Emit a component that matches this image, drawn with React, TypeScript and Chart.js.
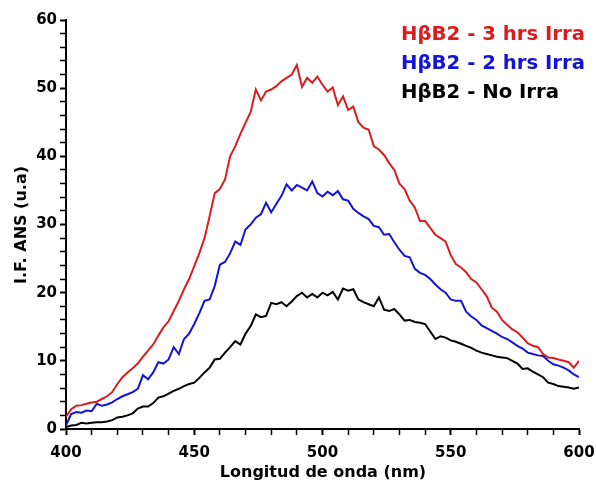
import React, { useEffect, useRef } from "react";
import { Chart, registerables } from "chart.js";

Chart.register(...registerables);

const wavelengths: number[] = Array.from({ length: 101 }, (_, i) => 400 + i * 2);

const irra3h: number[] = [
  1.8, 2.9, 3.4, 3.5, 3.7, 3.9, 4.0, 4.4, 4.8, 5.4,
  6.6, 7.6, 8.3, 8.9, 9.6, 10.6, 11.5, 12.4, 13.7, 14.9,
  15.8, 17.3, 18.8, 20.5, 22.0, 23.9, 25.8, 28.0, 31.2, 34.6,
  35.2, 36.6, 40.0, 41.5, 43.3, 44.9, 46.5, 49.8, 48.2, 49.5,
  49.8, 50.3, 51.0, 51.5, 52.0, 53.4, 50.2, 51.5, 50.8, 51.7,
  50.5, 49.5, 50.1, 47.5, 48.8, 46.8, 47.3, 45.0, 44.2, 43.9,
  41.5, 41.0, 40.2, 39.0, 38.0, 36.0, 35.2, 33.5, 32.5, 30.5,
  30.5, 29.5, 28.5, 28.0, 27.5, 25.5, 24.2, 23.7, 23.0, 22.0,
  21.5, 20.5, 19.5, 17.8, 17.2, 16.0, 15.3, 14.6, 14.2, 13.4,
  12.6, 12.2, 12.0, 11.0, 10.5, 10.4, 10.2, 10.0, 9.8, 9.0,
  10.0,
];

const irra2h: number[] = [
  0.5, 2.2, 2.5, 2.4, 2.7, 2.6, 3.7, 3.4, 3.6, 3.9,
  4.4, 4.8, 5.1, 5.4, 5.9, 7.9, 7.3, 8.3, 9.8, 9.6,
  10.2, 12.0, 11.0, 13.2, 14.0, 15.4, 17.0, 18.8, 19.0, 21.0,
  24.1, 24.5, 25.8, 27.5, 27.0, 29.3, 30.0, 31.0, 31.5, 33.2,
  31.8, 33.0, 34.2, 35.9, 35.0, 35.8, 35.4, 35.0, 36.3, 34.6,
  34.1, 34.8, 34.3, 34.9, 33.7, 33.5, 32.3, 31.7, 31.2, 30.8,
  29.8, 29.6, 28.5, 28.6, 27.4, 26.3, 25.4, 25.2, 23.5, 22.9,
  22.6, 22.0, 21.2, 20.5, 20.0, 19.0, 18.8, 18.8, 17.2, 16.5,
  16.0, 15.2, 14.8, 14.4, 14.0, 13.5, 13.2, 12.7, 12.2, 11.8,
  11.2, 11.0, 10.8, 10.7, 10.0, 9.5, 9.3, 9.0, 8.6, 8.0,
  7.6,
];

const noIrra: number[] = [
  0.3, 0.5, 0.6, 0.9, 0.8, 0.9, 1.0, 1.0, 1.1, 1.3,
  1.7, 1.8, 2.0, 2.3, 3.0, 3.3, 3.3, 3.8, 4.6, 4.8,
  5.2, 5.6, 5.9, 6.3, 6.6, 6.8, 7.5, 8.3, 9.0, 10.2,
  10.3, 11.2, 12.0, 12.9, 12.4, 14.0, 15.1, 16.8, 16.4, 16.6,
  18.5, 18.3, 18.6, 18.0, 18.7, 19.5, 20.0, 19.3, 19.8, 19.3,
  20.0, 19.6, 20.1, 19.0, 20.6, 20.3, 20.5, 19.0, 18.6, 18.3,
  18.0, 19.3, 17.5, 17.3, 17.6, 16.8, 15.9, 16.0, 15.7, 15.6,
  15.4, 14.3, 13.2, 13.6, 13.4, 13.0, 12.8, 12.5, 12.2, 11.9,
  11.5, 11.2, 11.0, 10.8, 10.6, 10.5, 10.4, 10.0, 9.6, 8.8,
  8.9, 8.4, 8.0, 7.6, 6.8, 6.6, 6.3, 6.2, 6.1, 5.9,
  6.1,
];

const seriesLabels: string[] = ["HβB2 - 3 hrs Irra", "HβB2 - 2 hrs Irra", "HβB2 - No Irra"];
const seriesColors: string[] = ["#d81e1e", "#1414d2", "#000000"];
const xTitle = "Longitud de onda (nm)";
const yTitle = "I.F. ANS (u.a)";

const FONT = "'DejaVu Sans', 'Noto Sans', sans-serif";

export default function App() {
  const canvasRef = useRef<HTMLCanvasElement | null>(null);

  useEffect(() => {
    const canvas = canvasRef.current;
    if (!canvas) return;
    const toPts = (arr: number[]) => arr.map((v, i) => ({ x: wavelengths[i], y: v }));
    const series = [irra3h, irra2h, noIrra];

    const textPlugin = {
      id: "texts",
      afterDraw(chart: any) {
        const ctx = chart.ctx as CanvasRenderingContext2D;
        ctx.save();
        ctx.font = `bold 19.7px ${FONT}`;
        ctx.textAlign = "left";
        ctx.textBaseline = "alphabetic";
        const baselines = [40, 69, 98];
        seriesLabels.forEach((l, i) => {
          ctx.fillStyle = seriesColors[i];
          ctx.fillText(l, 401, baselines[i]);
        });
        ctx.fillStyle = "#000";
        ctx.font = `bold 16px ${FONT}`;
        ctx.textAlign = "center";
        ctx.textBaseline = "middle";
        ctx.fillText(xTitle, 323, 473);
        ctx.translate(22, 225);
        ctx.rotate(-Math.PI / 2);
        ctx.fillText(yTitle, 0, 0);
        ctx.restore();
      },
    };

    const chart = new Chart(canvas, {
      type: "line",
      data: {
        datasets: series.map((s, i) => ({
          label: seriesLabels[i],
          data: toPts(s),
          borderColor: seriesColors[i],
          backgroundColor: seriesColors[i],
          borderWidth: 2,
          pointRadius: 0,
          tension: 0,
          fill: false,
        })),
      },
      options: {
        responsive: false,
        animation: false,
        devicePixelRatio: 1,
        layout: { padding: { top: 20, right: 17, left: 0, bottom: 0 } },
        plugins: {
          legend: { display: false },
          tooltip: { enabled: false },
          title: { display: false },
        },
        scales: {
          x: {
            type: "linear",
            min: 400,
            max: 600,
            afterFit: (scale: any) => {
              scale.height = 54;
              scale.paddingLeft = 0;
              scale.paddingRight = 0;
            },
            border: { display: true, color: "#000", width: 2 },
            grid: {
              display: true,
              drawOnChartArea: false,
              drawTicks: true,
              tickLength: 6,
              color: "#000",
              tickWidth: (ctx: any) => (ctx.tick && ctx.tick.value % 50 === 0 ? 2 : 1.5),
            },
            ticks: {
              stepSize: 10,
              autoSkip: false,
              maxRotation: 0,
              padding: 9,
              color: "#000",
              font: { family: FONT, size: 15, weight: "bold" },
              callback: (v: any) => (Number(v) % 50 === 0 ? String(v) : ""),
            },
          },
          y: {
            type: "linear",
            min: 0,
            max: 60,
            afterFit: (scale: any) => {
              scale.width = 66;
              scale.paddingTop = 0;
              scale.paddingBottom = 0;
            },
            border: { display: true, color: "#000", width: 2 },
            grid: {
              display: true,
              drawOnChartArea: false,
              drawTicks: true,
              tickLength: 6,
              color: "#000",
              tickWidth: (ctx: any) => (ctx.tick && ctx.tick.value % 10 === 0 ? 2 : 1.5),
            },
            ticks: {
              stepSize: 2,
              autoSkip: false,
              padding: 3,
              color: "#000",
              font: { family: FONT, size: 15, weight: "bold" },
              callback: (v: any) => (Number(v) % 10 === 0 ? String(v) : ""),
            },
          },
        },
      },
      plugins: [textPlugin],
    } as any);

    return () => chart.destroy();
  }, []);

  return (
    <div style={{ position: "absolute", left: 0, top: 0, width: 596, height: 483, background: "#fff" }}>
      <canvas ref={canvasRef} width={596} height={483} style={{ width: 596, height: 483 }} />
    </div>
  );
}
